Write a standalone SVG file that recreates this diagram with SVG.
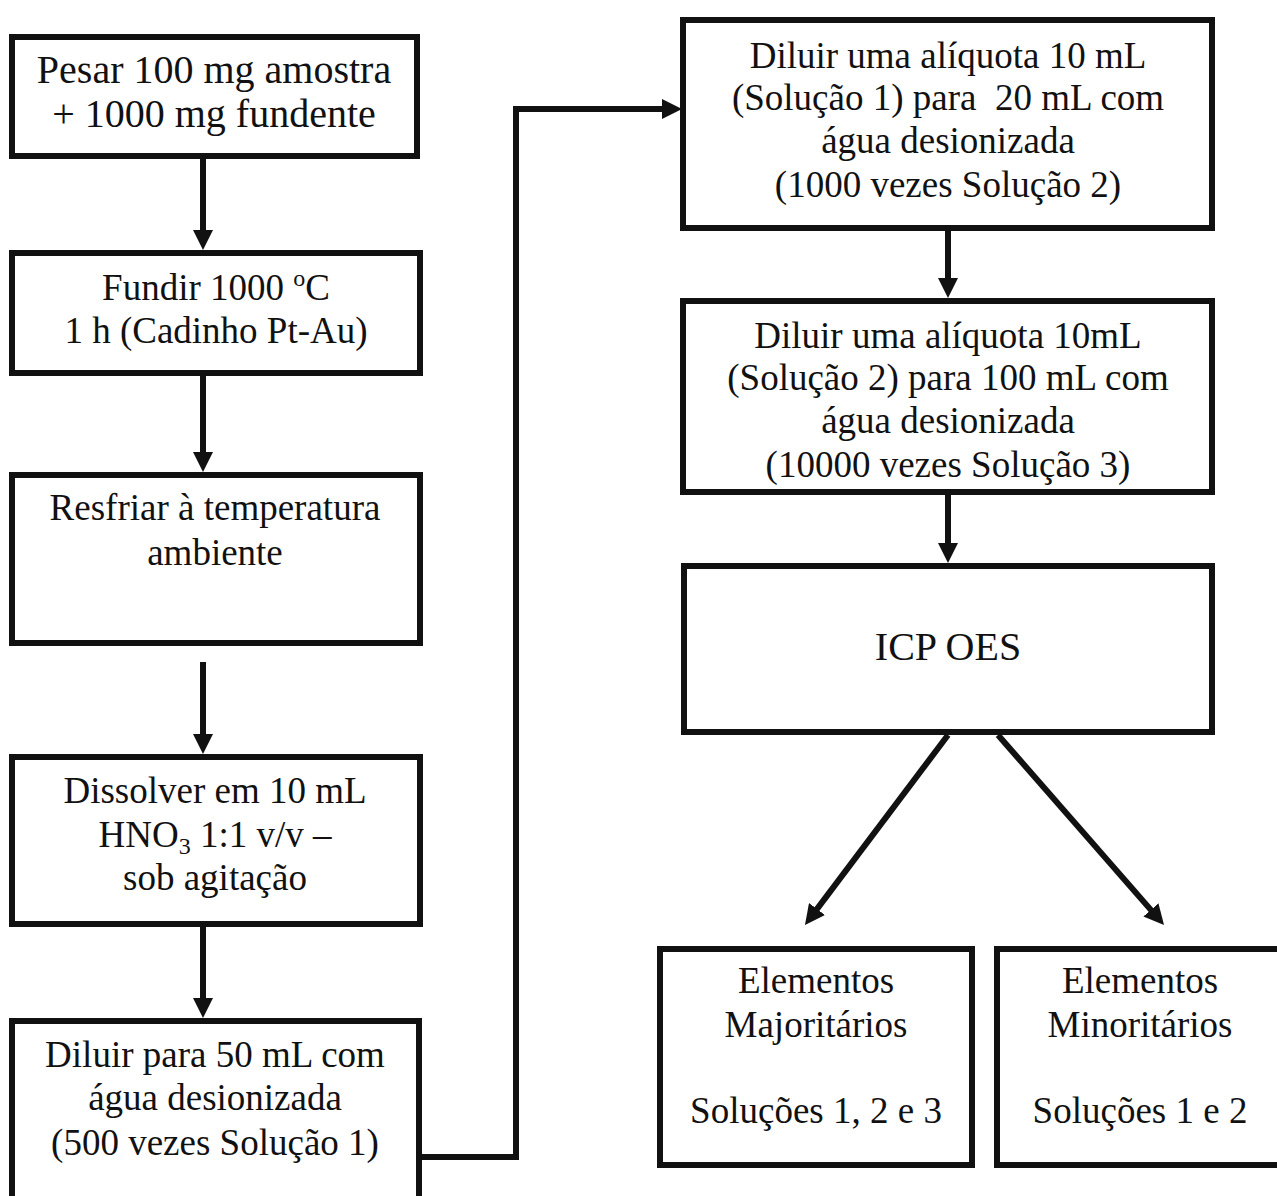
<svg xmlns="http://www.w3.org/2000/svg" width="1277" height="1196" viewBox="0 0 1277 1196">
<style>
.box{fill:#fff;stroke:#111;stroke-width:6}
.t{font-family:"Liberation Serif","Times New Roman",serif;font-size:37px;fill:#111;text-anchor:middle}
.p{font-family:"Liberation Serif","Times New Roman",serif;font-size:40px;fill:#111;text-anchor:middle}
.c{fill:none;stroke:#111;stroke-width:6}
</style>
<defs>
<marker id="ah" viewBox="0 0 20 20" refX="2" refY="10" markerWidth="20" markerHeight="20" markerUnits="userSpaceOnUse" orient="auto">
<path d="M0,0 L20,10 L0,20 Z" fill="#111"/>
</marker>
</defs>
<rect width="1277" height="1196" fill="#fff"/>
<g id="connectors">
<path class="c" d="M203,159 L203,232" marker-end="url(#ah)"/>
<path class="c" d="M203,376 L203,454" marker-end="url(#ah)"/>
<path class="c" d="M203,662 L203,736" marker-end="url(#ah)"/>
<path class="c" d="M203,927 L203,1000" marker-end="url(#ah)"/>
<path class="c" d="M422,1157 L516,1157 L516,109 L664,109" marker-end="url(#ah)"/>
<path class="c" d="M948,231 L948,280" marker-end="url(#ah)"/>
<path class="c" d="M948,495 L948,545" marker-end="url(#ah)"/>
<path class="c" d="M948,735 L815.8,910.6" marker-end="url(#ah)"/>
<path class="c" d="M998,735 L1152.2,911.4" marker-end="url(#ah)"/>
</g>
<g id="n1">
<rect class="box" x="12" y="37" width="405" height="119"/>
<text class="p" x="214" y="83">Pesar 100 mg amostra</text>
<text class="p" x="214" y="127">+ 1000 mg fundente</text>
</g>
<g id="n2">
<rect class="box" x="12" y="253" width="408" height="120"/>
<text class="t" x="216" y="300">Fundir 1000 <tspan font-size="24" dy="-14">o</tspan><tspan dy="14">C</tspan></text>
<text class="t" x="216" y="343">1 h (Cadinho Pt-Au)</text>
</g>
<g id="n3">
<rect class="box" x="12" y="475" width="408" height="168"/>
<text class="t" x="215" y="520">Resfriar à temperatura</text>
<text class="t" x="215" y="565">ambiente</text>
</g>
<g id="n4">
<rect class="box" x="12" y="757" width="408" height="167"/>
<text class="t" x="215" y="803">Dissolver em 10 mL</text>
<text class="t" x="215" y="847">HNO<tspan font-size="24" dy="7">3</tspan><tspan dy="-7"> 1:1 v/v –</tspan></text>
<text class="t" x="215" y="890">sob agitação</text>
</g>
<g id="n5">
<rect class="box" x="12" y="1021" width="407" height="200"/>
<text class="t" x="215" y="1067">Diluir para 50 mL com</text>
<text class="t" x="215" y="1110">água desionizada</text>
<text class="t" x="215" y="1155">(500 vezes Solução 1)</text>
</g>
<g id="n6">
<rect class="box" x="683" y="20" width="529" height="208"/>
<text class="t" x="948" y="68">Diluir uma alíquota 10 mL</text>
<text class="t" x="948" y="110" xml:space="preserve">(Solução 1) para  20 mL com</text>
<text class="t" x="948" y="153">água desionizada</text>
<text class="t" x="948" y="197">(1000 vezes Solução 2)</text>
</g>
<g id="n7">
<rect class="box" x="683" y="301" width="529" height="191"/>
<text class="t" x="948" y="348">Diluir uma alíquota 10mL</text>
<text class="t" x="948" y="390">(Solução 2) para 100 mL com</text>
<text class="t" x="948" y="433">água desionizada</text>
<text class="t" x="948" y="477">(10000 vezes Solução 3)</text>
</g>
<g id="n8">
<rect class="box" x="684" y="566" width="528" height="166"/>
<text class="p" x="948" y="660" font-size="37">ICP OES</text>
</g>
<g id="n9">
<rect class="box" x="660" y="949" width="312" height="216"/>
<text class="t" x="816" y="993">Elementos</text>
<text class="t" x="816" y="1037">Majoritários</text>
<text class="t" x="816" y="1123">Soluções 1, 2 e 3</text>
</g>
<g id="n10">
<rect class="box" x="997" y="949" width="300" height="216"/>
<text class="t" x="1140" y="993">Elementos</text>
<text class="t" x="1140" y="1037">Minoritários</text>
<text class="t" x="1140" y="1123">Soluções 1 e 2</text>
</g>
</svg>
